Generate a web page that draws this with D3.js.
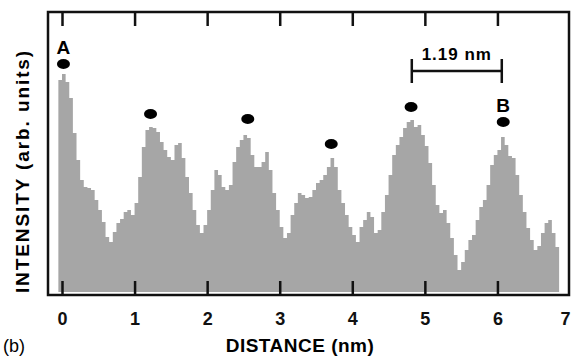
<!DOCTYPE html>
<html>
<head>
<meta charset="utf-8">
<script src="https://cdn.jsdelivr.net/npm/d3@7"></script>
<style>
  body { margin: 0; background: #fff; }
  svg { display: block; font-family: "Liberation Sans", Arial, sans-serif; }
</style>
</head>
<body>
<div id="chart"></div>
<script>
// line profile, sampled every 0.05 nm starting at -0.05 nm
const startDistance = -0.05;
const step = 0.05;
const intensity = [
  212,
  218, 210, 194, 159, 132, 112, 105, 104, 102, 92,
  82, 70, 55, 50, 60, 69, 73, 80, 82, 77,
  89, 115, 145, 162, 165, 164, 160, 150, 142, 135,
  132, 147, 149, 134, 115, 99, 82, 67, 59, 67,
  82, 102, 122, 117, 105, 102, 107, 130, 145, 152,
  157, 154, 137, 125, 125, 130, 140, 122, 99, 82,
  65, 54, 59, 77, 89, 99, 97, 94, 95, 102,
  109, 112, 117, 125, 134, 125, 102, 89, 77, 65,
  57, 50, 65, 72, 80, 75, 59, 62, 80, 97,
  117, 137, 147, 155, 164, 170, 172, 165, 167, 157,
  146, 129, 107, 87, 79, 82, 69, 54, 37, 22,
  30, 42, 52, 57, 72, 85, 92, 107, 127, 137,
  142, 155, 147, 136, 134, 117, 97, 80, 64, 52,
  42, 46, 59, 69, 72, 59, 45
];

const xTicks = [0, 1, 2, 3, 4, 5, 6, 7];

// peak markers
const markerDistance = [0.02, 1.22, 2.56, 3.71, 4.81, 6.08];
const markerIntensity = [228, 178, 173, 148, 185, 170];
const markerNames = ["A", "", "", "", "", "B"];

// scale bar between two peaks
const scaleBar = [4.82, 6.06];
const scaleBarLevel = 221;
const scaleBarText = "1.19 nm";

const width = 574, height = 358;
const frame = { left: 48, right: 569, top: 12, bottom: 295 };

const svg = d3.select("#chart").append("svg")
  .attr("width", width)
  .attr("height", height);

const x = d3.scaleLinear().domain([0, 7]).range([62, 570]);
const y = d3.scaleLinear().domain([0, 280]).range([292, 12]);

const points = intensity.map((v, i) => ({ d: startDistance + i * step, v }));
points.push({ d: startDistance + intensity.length * step, v: intensity[intensity.length - 1] });

const area = d3.area()
  .x(d => x(d.d))
  .y0(y(0))
  .y1(d => y(d.v))
  .curve(d3.curveStepAfter);

svg.append("path")
  .datum(points)
  .attr("fill", "#a6a6a6")
  .attr("d", area);

// frame
svg.append("rect")
  .attr("x", frame.left)
  .attr("y", frame.top)
  .attr("width", frame.right - frame.left)
  .attr("height", frame.bottom - frame.top)
  .attr("fill", "none")
  .attr("stroke", "#111")
  .attr("stroke-width", 2.5);

// inward ticks, bottom and top
const xAxis = svg.append("g")
  .attr("transform", `translate(0,${frame.bottom})`)
  .call(d3.axisBottom(x).tickValues(xTicks).tickSize(-14).tickPadding(17).tickFormat(d3.format("d")));
xAxis.select(".domain").remove();
xAxis.selectAll(".tick line").attr("stroke", "#111").attr("stroke-width", 2.5)
  .filter(d => d === 7).remove();
xAxis.selectAll(".tick text")
  .attr("fill", "#111")
  .attr("dx", d => d === 7 ? -5 : 0)
  .style("font-size", "18px")
  .style("font-weight", "bold")
  .style("font-family", "Liberation Sans, Arial, sans-serif");

const topAxis = svg.append("g")
  .attr("transform", `translate(0,${frame.top})`)
  .call(d3.axisTop(x).tickValues(xTicks.filter(d => d < 7)).tickSize(-14).tickFormat(""));
topAxis.select(".domain").remove();
topAxis.selectAll(".tick line").attr("stroke", "#111").attr("stroke-width", 2.5);

// markers
svg.selectAll(".marker")
  .data(markerDistance)
  .enter().append("ellipse")
  .attr("class", "marker")
  .attr("cx", d => x(d))
  .attr("cy", (d, i) => y(markerIntensity[i]))
  .attr("rx", 6.5)
  .attr("ry", 5)
  .attr("fill", "#000");

svg.selectAll(".marker-label")
  .data(markerDistance)
  .enter().append("text")
  .attr("class", "marker-label")
  .attr("x", d => x(d))
  .attr("y", (d, i) => y(markerIntensity[i]) - 10)
  .attr("text-anchor", "middle")
  .style("font-size", "19px")
  .style("font-weight", "bold")
  .text((d, i) => markerNames[i]);

// scale bar
const bar = svg.append("g").attr("stroke", "#111").attr("stroke-width", 2.5);
bar.append("line")
  .attr("x1", x(scaleBar[0])).attr("x2", x(scaleBar[1]))
  .attr("y1", y(scaleBarLevel)).attr("y2", y(scaleBarLevel));
scaleBar.forEach(d => {
  bar.append("line")
    .attr("x1", x(d)).attr("x2", x(d))
    .attr("y1", y(scaleBarLevel) - 12).attr("y2", y(scaleBarLevel) + 12);
});
svg.append("text")
  .attr("x", x((scaleBar[0] + scaleBar[1]) / 2))
  .attr("y", y(scaleBarLevel) - 11)
  .attr("text-anchor", "middle")
  .style("font-size", "17px")
  .style("font-weight", "bold")
  .style("letter-spacing", "1px")
  .text(scaleBarText);

// axis titles
svg.append("text")
  .attr("x", 300)
  .attr("y", 352)
  .attr("text-anchor", "middle")
  .style("font-size", "19px")
  .style("font-weight", "bold")
  .style("letter-spacing", "0.5px")
  .text("DISTANCE (nm)");

svg.append("text")
  .attr("transform", "translate(29,171) rotate(-90)")
  .attr("text-anchor", "middle")
  .style("font-size", "19px")
  .style("font-weight", "bold")
  .style("letter-spacing", "1.9px")
  .text("INTENSITY (arb. units)");

svg.append("text")
  .attr("x", 3)
  .attr("y", 352)
  .style("font-size", "18px")
  .text("(b)");
</script>
</body>
</html>
